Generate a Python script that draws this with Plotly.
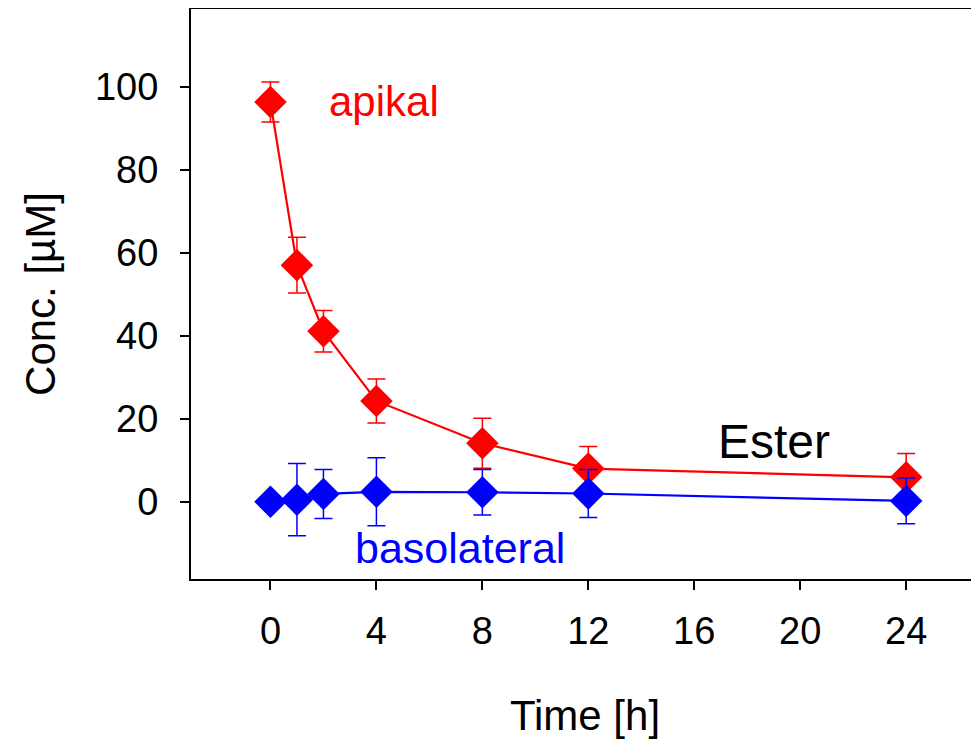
import plotly.graph_objects as go

time_h = [0, 1, 2, 4, 8, 12, 24]
apikal = [96.3, 57.0, 41.1, 24.3, 14.1, 8.0, 5.9]
apikal_err = [4.8, 6.7, 5.0, 5.3, 6.0, 5.3, 5.7]
basolateral = [0.0, 0.5, 1.9, 2.4, 2.3, 2.0, 0.2]
basolateral_err = [0.0, 8.7, 5.9, 8.2, 5.5, 5.8, 5.5]
x_ticks = [0, 4, 8, 12, 16, 20, 24]
y_ticks = [0, 20, 40, 60, 80, 100]

FONT = "Liberation Sans, Arial, sans-serif"

fig = go.Figure()
fig.add_trace(go.Scatter(
    x=time_h, y=apikal, mode="lines+markers",
    line=dict(color="#ff0000", width=2.2),
    marker=dict(symbol="diamond", size=25, color="#ff0000"),
    error_y=dict(type="data", array=apikal_err, visible=True,
                 color="#ff0000", thickness=1.5, width=9),
    showlegend=False,
))
fig.add_trace(go.Scatter(
    x=time_h, y=basolateral, mode="lines+markers",
    line=dict(color="#0000ff", width=2.2),
    marker=dict(symbol="diamond", size=25, color="#0000ff"),
    error_y=dict(type="data", array=basolateral_err, visible=True,
                 color="#0000ff", thickness=1.5, width=9),
    showlegend=False,
))

fig.add_annotation(x=4.3, y=96.3, text="apikal", showarrow=False,
                   font=dict(family=FONT, size=42, color="#ff0000"))
fig.add_annotation(x=19.0, y=14.6, text="Ester", showarrow=False,
                   font=dict(family=FONT, size=48, color="#000000"))
fig.add_annotation(x=7.15, y=-11.2, text="basolateral", showarrow=False,
                   font=dict(family=FONT, size=43, color="#0000ff"))

fig.update_layout(
    width=971, height=731,
    margin=dict(l=183, r=0, t=1, b=160),
    paper_bgcolor="white", plot_bgcolor="white",
    font=dict(family=FONT, size=38, color="black"),
)
fig.update_xaxes(
    range=[-3, 26.75], tickvals=x_ticks, ticktext=[str(v) for v in x_ticks],
    showgrid=False, zeroline=False, showline=True, linecolor="black",
    linewidth=2, mirror=True, ticks="outside", ticklen=9, tickwidth=2,
    tickcolor="black", ticklabelstandoff=8,
    title=dict(text="Time [h]", font=dict(family=FONT, size=42), standoff=51),
)
fig.update_yaxes(
    range=[-18.6, 118.7], tickvals=y_ticks, ticktext=[str(v) for v in y_ticks],
    showgrid=False, zeroline=False, showline=True, linecolor="black",
    linewidth=2, ticks="outside", ticklen=9, tickwidth=2,
    tickcolor="black", ticklabelstandoff=14,
    title=dict(text="Conc. [µM]", font=dict(family=FONT, size=42), standoff=26),
)

fig.write_html("out.html")
